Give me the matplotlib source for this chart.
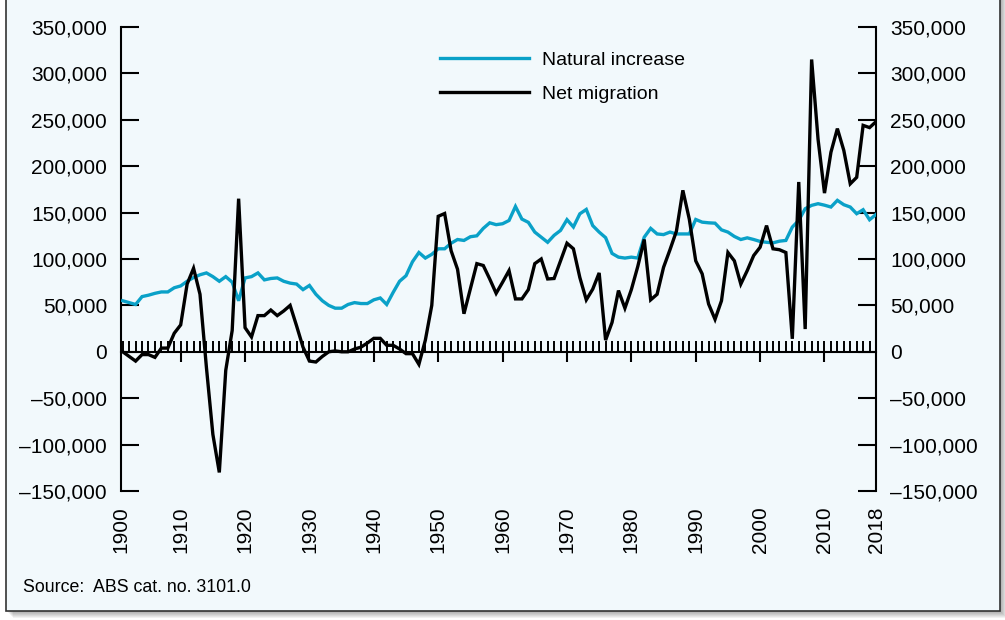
"""
Natural increase and net overseas migration, Australia 1901-2018.
"""

import numpy as np
import matplotlib
matplotlib.use("Agg")
import matplotlib.pyplot as plt
from matplotlib.patches import Rectangle

plt.rcParams["font.family"] = ["Liberation Sans", "DejaVu Sans"]

# --- DATA (thousands of persons, one value per year 1901-2018) ---
years = list(range(1901, 2019))

natural_increase = [
    55, 53, 51, 59.5, 61, 63, 64.5, 64.5, 69, 71,                       # 1901-1910
    76, 80, 83, 85, 81, 76, 81, 75, 55, 79.6,                           # 1911-1920
    81, 85, 77.5, 79, 79.6, 76, 74, 73, 67, 71.5,                       # 1921-1930
    62, 55, 50, 47, 47, 51, 53, 52, 52, 56,                             # 1931-1940
    58, 51, 64, 76, 82, 97, 107, 101, 105, 111,                         # 1941-1950
    111, 117, 121, 120, 124, 125, 133, 139, 137, 138,                   # 1951-1960
    141.5, 156.6, 143, 139.5, 129, 123.5, 118, 125.5, 130.8, 142.4,     # 1961-1970
    134.5, 148.7, 153.4, 136, 129, 123, 106, 102, 101, 102,             # 1971-1980
    101, 123.5, 133, 127, 126.3, 129, 127, 127, 127, 142.6,             # 1981-1990
    139.7, 139, 138.6, 131.4, 129, 124.3, 121, 122.8, 121, 118.9,       # 1991-2000
    118, 117.4, 119.2, 120, 134.4, 141.6, 154.2, 157.8, 159.6, 158,     # 2001-2010
    156, 163.2, 158.5, 156, 148.8, 153.1, 142.3, 148,                   # 2011-2018
]

net_migration = [
    0, -5, -10, -3, -3, -6, 4, 4, 20, 29,                               # 1901-1910
    73, 90, 62, -17, -89, -130, -20, 23, 165, 26,                       # 1911-1920
    16, 39, 39, 45, 39, 44, 50, 28, 5, -10,                             # 1921-1930
    -11, -5, 0, 1, 0, 0, 3, 5, 9.5, 14.5,                               # 1931-1940
    14.5, 7, 7, 3, -2, -2, -13.5, 12.5, 50, 146,                        # 1941-1950
    149, 109, 89, 41, 68, 95, 93, 78.5, 63, 75,                         # 1951-1960
    87.5, 57, 57, 67, 95, 100, 78.5, 79, 98, 117,                       # 1961-1970
    111, 80, 56, 67.5, 85, 12.6, 31.6, 66, 47, 67,                      # 1971-1980
    92, 121, 56, 62, 91, 110, 130, 174, 143, 98,                        # 1981-1990
    84, 51.5, 35, 55, 107, 98, 73, 87.5, 103.7, 112.7,                  # 1991-2000
    136, 111, 110, 107, 14, 183, 24.5, 315, 229, 171,                   # 2001-2010
    215, 240.5, 217, 181, 188, 244, 241.6, 248,                         # 2011-2018
]

y_ticks = [-150, -100, -50, 0, 50, 100, 150, 200, 250, 300, 350]
decades = [1910, 1920, 1930, 1940, 1950, 1960, 1970, 1980, 1990, 2000, 2010]
year_labels = ["1900"] + [str(d) for d in decades] + ["2018"]

BLUE = "#0aa1c8"
PANEL = "#f2f9fc"
W, H = 1005, 620


def fx(px):
    return px / W


def fy(py):
    return 1 - py / H


fig = plt.figure(figsize=(W / 100, H / 100), dpi=100)
fig.patch.set_facecolor("white")

# panel with drop shadow
for k in range(1, 8):
    fig.add_artist(Rectangle((fx(6 + k), fy(611 + k)), fx(994), (631 + k) / H,
                             transform=fig.transFigure, facecolor="black",
                             edgecolor="none", alpha=0.05, zorder=-3))
fig.add_artist(Rectangle((fx(6), fy(611)), fx(994), 640 / H,
                         transform=fig.transFigure, facecolor=PANEL,
                         edgecolor="#333333", linewidth=1.2, zorder=-2))

ax = fig.add_axes([fx(121), fy(491), fx(876 - 121), (491 - 27) / H])
ax.set_facecolor("none")

ax.plot(years, natural_increase, color=BLUE, linewidth=2.4,
        label="Natural increase", zorder=3, solid_joinstyle="miter")
ax.plot(years, net_migration, color="black", linewidth=2.4,
        label="Net migration", zorder=4, solid_joinstyle="miter")

ax.set_xlim(1900.73, 2018)
ax.set_ylim(-150, 350)

# spines: zero line with year ticks, no top
ax.spines["top"].set_visible(False)
ax.spines["bottom"].set_position(("data", 0))
for s in ["left", "right", "bottom"]:
    ax.spines[s].set_linewidth(1.5)
    ax.spines[s].set_zorder(2.5)

ax.xaxis.remove_overlapping_locs = False
ax.set_xticks(decades)
ax.set_xticks(range(1901, 2018), minor=True)
ax.tick_params(axis="x", which="major", direction="out", length=7.5,
               width=1.5, labelbottom=False)
ax.tick_params(axis="x", which="minor", direction="in", length=8, width=1.4)

# y axis both sides
ax.set_yticks(y_ticks)
ax.set_yticklabels([f"{v * 1000:,}".replace("-", "\u2013") for v in y_ticks])
ax.tick_params(axis="y", which="both", left=True, right=True, labelleft=True,
               labelright=True, direction="in", length=13, width=1.5,
               pad=10, labelsize=15)

# year labels along the bottom
sec = ax.secondary_xaxis("bottom")
sec.set_xticks([1900.73] + decades + [2018], year_labels)
sec.tick_params(length=0, pad=11, labelsize=15, labelrotation=90)
sec.spines["bottom"].set_visible(False)

ax.legend(loc="upper left", bbox_to_anchor=(fx(440), fy(51)),
          bbox_transform=fig.transFigure, frameon=False, fontsize=14,
          handlelength=4.6, handletextpad=0.65, labelspacing=0.86,
          borderpad=0, borderaxespad=0)

fig.text(fx(23), fy(588), "Source:  ABS cat. no. 3101.0", fontsize=12.8,
         va="center", ha="left")

fig.savefig("out.png", dpi=100, facecolor=fig.get_facecolor())
